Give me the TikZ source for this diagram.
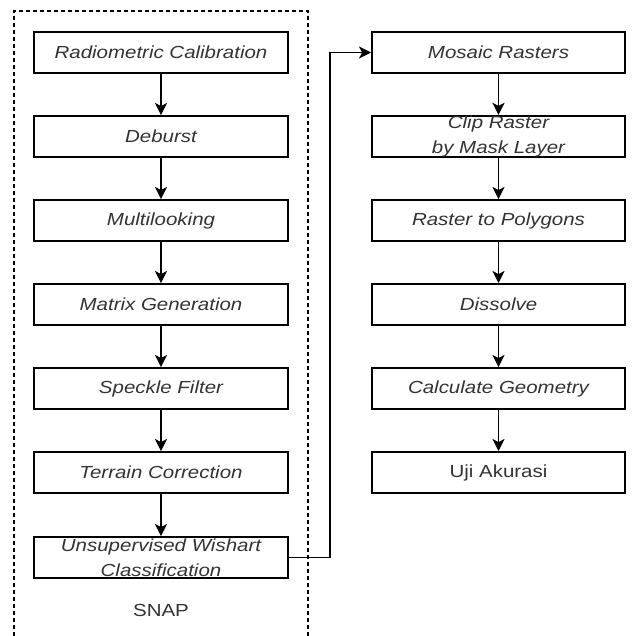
\documentclass[tikz,border=0pt]{standalone}
\usepackage{fontspec}
\setmainfont{Liberation Sans}
\usepackage{graphicx}
\usetikzlibrary{arrows.meta}
\definecolor{txt}{HTML}{333333}
\newcommand{\st}[1]{\scalebox{1.17}[1]{#1}}
\begin{document}
\begin{tikzpicture}[x=1pt,y=-1pt,
  procbox/.style={draw=black,line width=1.9pt,fill=white,minimum width=254pt,minimum height=41pt,inner sep=0pt,
    font=\fontsize{17.5}{25}\selectfont\itshape,text=txt,align=center},
  conn/.style={line width=1.9pt,-{Stealth[length=12pt,width=12pt,inset=3pt]}},
  dashline/.style={line width=1.8pt,dash pattern=on 4pt off 3pt}]
\useasboundingbox (0,0) rectangle (632,636);
\draw[dashline] (14,636) -- (14,11) -- (308,11) -- (308,636);
\node[procbox] (a1) at (161,52.5) {\st{Radiometric Calibration}};
\node[procbox] (a2) at (161,136.5) {\st{Deburst}};
\node[procbox] (a3) at (161,220.5) {\st{Multilooking}};
\node[procbox] (a4) at (161,304.5) {\st{Matrix Generation}};
\node[procbox] (a5) at (161,388.5) {\st{Speckle Filter}};
\node[procbox] (a6) at (161,472.5) {\st{Terrain Correction}};
\node[procbox] (a7) at (161,557.5) {\st{Unsupervised Wishart}\\[0pt]\st{Classification}};
\node[font=\fontsize{17.5}{25}\selectfont,text=txt] (snap) at (161,610) {\st{SNAP}};
\node[procbox,minimum width=253pt] (b1) at (498.5,52.5) {\st{Mosaic Rasters}};
\node[procbox,minimum width=253pt] (b2) at (498.5,136.5) {\st{Clip Raster}\\[0pt]\st{by Mask Layer}};
\node[procbox,minimum width=253pt] (b3) at (498.5,220.5) {\st{Raster to Polygons}};
\node[procbox,minimum width=253pt] (b4) at (498.5,304.5) {\st{Dissolve}};
\node[procbox,minimum width=253pt] (b5) at (498.5,388.5) {\st{Calculate Geometry}};
\node[procbox,minimum width=253pt,font=\fontsize{17.5}{25}\selectfont] (b6) at (498.5,472.5) {\st{Uji Akurasi}};
\foreach \u/\v in {a1/a2,a2/a3,a3/a4,a4/a5,a5/a6,a6/a7,b1/b2,b2/b3,b3/b4,b4/b5,b5/b6}
  \draw[conn] (\u) -- (\v);
\coordinate (c1) at (330,557.5);
\coordinate (c2) at (330,52.5);
\draw[conn] (a7.east) -- (c1) -- (c2) -- (b1.west);
\end{tikzpicture}
\end{document}
